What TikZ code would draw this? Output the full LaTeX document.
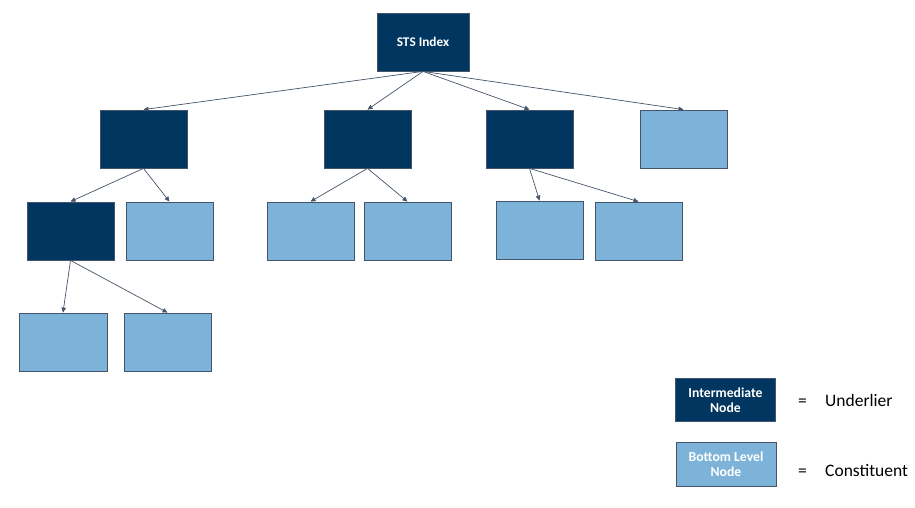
\documentclass[tikz,border=0pt]{standalone}
\usepackage{fontspec}
\setmainfont{Carlito}
\usetikzlibrary{arrows.meta}
\definecolor{darkfill}{HTML}{003660}
\definecolor{lightfill}{HTML}{7EB3D9}
\definecolor{edgecol}{HTML}{44546A}
\tikzset{
  darkbox/.style={draw=edgecol, line width=0.8pt, fill=darkfill, minimum width=87pt, minimum height=58pt, inner sep=0pt, text=white, font=\bfseries\fontsize{13.7}{15.5}\selectfont, align=center},
  lightbox/.style={draw=edgecol, line width=0.8pt, fill=lightfill, minimum width=87pt, minimum height=58pt, inner sep=0pt, text=white, font=\bfseries\fontsize{13.7}{15.5}\selectfont, align=center},
  conn/.style={draw=edgecol, line width=0.7pt, -{Triangle[length=5pt,width=4.5pt]}},
  legtext/.style={font=\fontsize{17.5}{19}\selectfont, anchor=base west, inner sep=0pt}
}
\begin{document}
\begin{tikzpicture}[x=1pt,y=-1pt]
\useasboundingbox (0,0) rectangle (915,508);
\node[darkbox, minimum width=92pt, font=\bfseries\fontsize{13.3}{14}\selectfont] (top) at (423,42) {STS Index};
\node[darkbox] (A) at (143.5,139) {};
\node[darkbox] (B) at (367.5,139) {};
\node[darkbox] (C) at (529.5,139) {};
\node[lightbox] (D) at (683.5,139) {};
\node[darkbox] (E) at (70.5,231) {};
\node[lightbox] (F) at (169.5,231) {};
\node[lightbox] (G) at (310.5,231) {};
\node[lightbox] (H) at (407.5,231) {};
\node[lightbox] (I) at (539.5,230) {};
\node[lightbox] (J) at (638.5,231) {};
\node[lightbox, minimum width=88pt] (K) at (63,342) {};
\node[lightbox] (L) at (167.5,342) {};
\node[darkbox, minimum width=100pt, minimum height=43pt] (legd) at (725.5,400) {Intermediate\\Node};
\node[lightbox, minimum width=100pt, minimum height=44pt] (legl) at (726,464) {Bottom Level\\Node};
\node[legtext] (eq1) at (798,406) {=};
\node[legtext] (und) at (825,406) {Underlier};
\node[legtext] (eq2) at (798,476) {=};
\node[legtext] (con) at (825,476) {Constituent};
\foreach \t in {A,B,C,D} \draw[conn] (top.south) -- (\t.north);
\draw[conn] (A.south) -- (E.north);
\draw[conn] (A.south) -- (F.north);
\draw[conn] (B.south) -- (G.north);
\draw[conn] (B.south) -- (H.north);
\draw[conn] (C.south) -- (I.north);
\draw[conn] (C.south) -- (J.north);
\draw[conn] (E.south) -- (K.north);
\draw[conn] (E.south) -- (L.north);
\end{tikzpicture}
\end{document}
